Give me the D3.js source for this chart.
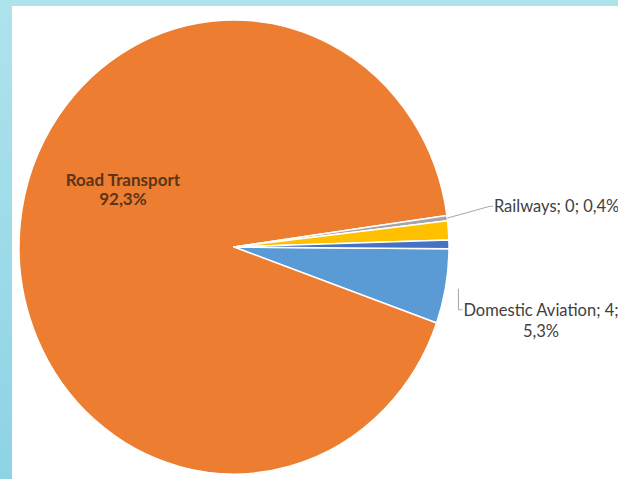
<!DOCTYPE html>
<html>
<head>
<meta charset="utf-8">
<script src="https://cdn.jsdelivr.net/npm/d3@7"></script>
<style>
  body { margin: 0; background: #fff; }
  svg { display: block; }
</style>
</head>
<body>
<div id="chart"></div>
<script>
// chart data, in series order (Excel default palette order)
const categories = ["Domestic Aviation", "Road Transport", "Railways", "Domestic Navigation", "Other Transportation"]
const values = [4.3, 74.8, 0.3, 1.1, 0.5]
const colors = ["#5b9bd5", "#ed7d31", "#a5a5a5", "#ffc000", "#4472c4"]
// which slices carry a label and how
const labelKinds = ["outsideWrap", "inside", "outside", null, null]

const width = 618
const height = 479
const cx = 234, cy = 247 // pie centre
const rx = 215, ry = 227 // the chart was stretched a little vertically
const firstSliceAngle = Math.PI / 2 + 0.008

const locale = d3.formatLocale({ decimal: ",", thousands: " ", grouping: [3], currency: ["", ""] })
const fmtPct = locale.format(".1%")
const fmtVal = locale.format(".0f")

const data = categories.map((c, i) => ({ category: c, value: values[i], color: colors[i], kind: labelKinds[i] }))
const total = d3.sum(values)

const pie = d3.pie()
  .sort(null)
  .value(d => d.value)
  .startAngle(firstSliceAngle)
  .endAngle(firstSliceAngle + 2 * Math.PI)

const arcs = pie(data)
const arc = d3.arc().innerRadius(0).outerRadius(rx)

// point on the (elliptical) pie at angle a, k times the radius
const pt = (a, k) => [cx + k * rx * Math.sin(a), cy - k * ry * Math.cos(a)]
const mid = d => (d.startAngle + d.endAngle) / 2

const svg = d3.select("#chart").append("svg")
  .attr("width", width)
  .attr("height", height)
  .attr("font-family", "Lato, 'Noto Sans', sans-serif")

const defs = svg.append("defs")
const grad = defs.append("linearGradient")
  .attr("id", "frame")
  .attr("x1", 0).attr("y1", 0).attr("x2", 0).attr("y2", 1)
grad.append("stop").attr("offset", 0).attr("stop-color", "#aee3ec")
grad.append("stop").attr("offset", 1).attr("stop-color", "#8dd3e6")

// light blue frame and white plot area
svg.append("rect").attr("width", width).attr("height", height).attr("fill", "url(#frame)")
svg.append("rect").attr("x", 12).attr("y", 6).attr("width", width - 12).attr("height", height - 6).attr("fill", "#fff")

svg.append("g")
  .attr("transform", `translate(${cx},${cy}) scale(1,${ry / rx})`)
  .selectAll("path")
  .data(arcs)
  .join("path")
    .attr("d", arc)
    .attr("fill", d => d.data.color)
    .attr("stroke", "#fff")
    .attr("stroke-width", 1.5)
    .attr("stroke-linejoin", "round")
    .attr("vector-effect", "non-scaling-stroke")

const labels = svg.append("g")
  .attr("font-size", 16.5)

// inside label (bold, two lines)
arcs.filter(d => d.data.kind === "inside").forEach(d => {
  const [x, y] = pt(mid(d), 0.51)
  const t = labels.append("text")
    .attr("text-anchor", "middle")
    .attr("font-weight", "bold")
    .attr("font-size", 17)
    .attr("fill", "#5a3518")
  t.append("tspan").attr("x", x - 2).attr("y", y - 49).text(d.data.category)
  t.append("tspan").attr("x", x - 2).attr("y", y - 30).text(fmtPct(d.data.value / total))
})

const leader = d3.line()

// outside label on one line, with a bent leader line
arcs.filter(d => d.data.kind === "outside").forEach(d => {
  const a = mid(d)
  const p0 = pt(a, 1.0)
  const p1 = pt(a, 1.2)
  const ly = p1[1] - 6
  labels.append("path")
    .attr("d", leader([p0, [p1[0], ly], [p1[0] + 3, ly]]))
    .attr("fill", "none")
    .attr("stroke", "#a6a6a6")
    .attr("stroke-width", 1)
  labels.append("text")
    .attr("x", p1[0] + 4)
    .attr("y", ly)
    .attr("dy", "0.35em")
    .attr("fill", "#404040")
    .text(`${d.data.category}; ${fmtVal(d.data.value)}; ${fmtPct(d.data.value / total)}`)
})

// outside label wrapped on two lines, leader drops down to it
arcs.filter(d => d.data.kind === "outsideWrap").forEach(d => {
  const a = mid(d)
  const p0 = pt(a, 1.06)
  const ly = p0[1] + 21
  const lx = p0[0] + 4
  labels.append("path")
    .attr("d", leader([p0, [p0[0], ly], [lx, ly]]))
    .attr("fill", "none")
    .attr("stroke", "#a6a6a6")
    .attr("stroke-width", 1)
  const first = labels.append("text")
    .attr("x", lx + 1)
    .attr("y", ly)
    .attr("dy", "0.35em")
    .attr("fill", "#404040")
    .text(`${d.data.category}; ${fmtVal(d.data.value)};`)
  const w = first.node().getComputedTextLength()
  labels.append("text")
    .attr("x", lx + 1 + w / 2)
    .attr("y", ly + 21)
    .attr("dy", "0.35em")
    .attr("text-anchor", "middle")
    .attr("fill", "#404040")
    .text(fmtPct(d.data.value / total))
})
</script>
</body>
</html>
